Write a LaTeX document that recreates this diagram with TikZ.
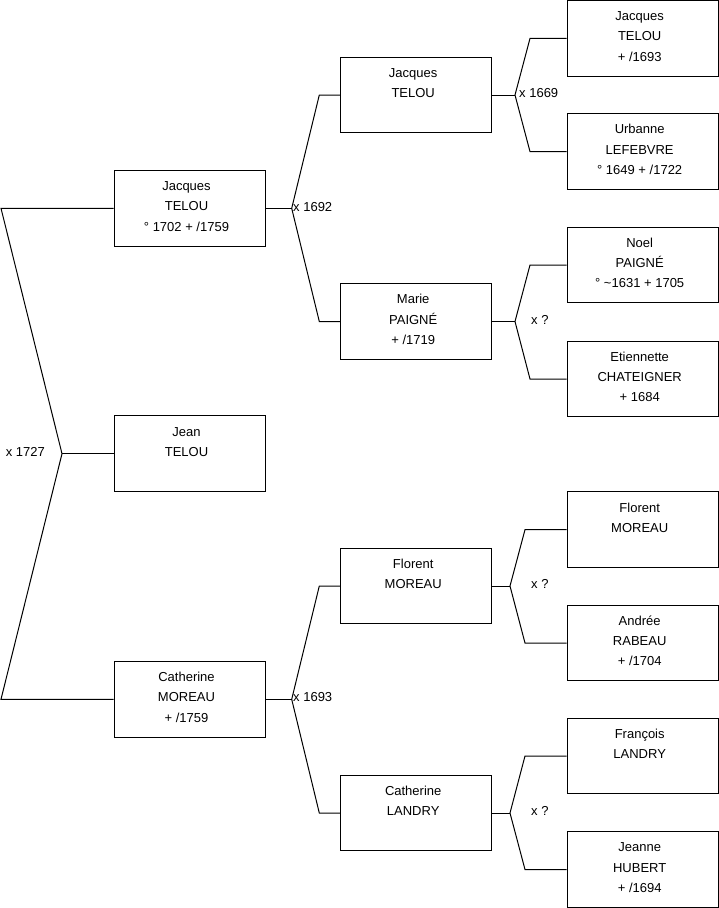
\documentclass[tikz,border=0pt]{standalone}
\usepackage{fontspec}
\setmainfont{Liberation Sans}
\newcommand\pnode[4]{%
  \node[person] (#1) at (#2,#3) {};
  \node[ptext] (#1-t) at ([xshift=-3pt,yshift=-6.3pt]#1.north) {\strut #4};}
\begin{document}
\begin{tikzpicture}[x=1pt,y=-1pt,
  person/.style={draw=black, line width=1pt, minimum width=151pt, minimum height=75.5pt, inner sep=0pt, fill=white},
  ptext/.style={anchor=north, align=center, inner sep=0pt, font=\fontsize{13}{20.2}\selectfont},
  link/.style={draw=black, line width=1pt, line join=miter},
  mlabel/.style={font=\fontsize{13}{15}\selectfont, inner sep=0pt}]
\useasboundingbox (0,0) rectangle (719,908);
% column 1
\pnode{a1}{189.5}{208.3}{Jacques\\TELOU\\° 1702 + /1759}
\pnode{b1}{189.5}{453.7}{Jean\\TELOU}
\pnode{c1}{189.5}{699.3}{Catherine\\MOREAU\\+ /1759}
% column 2
\pnode{a2}{416.2}{95}{Jacques\\TELOU}
\pnode{m2}{416.2}{321.5}{Marie\\PAIGNÉ\\+ /1719}
\pnode{f2}{416.2}{586}{Florent\\MOREAU}
\pnode{l2}{416.2}{813}{Catherine\\LANDRY}
% column 3
\pnode{a3}{642.7}{38.4}{Jacques\\TELOU\\+ /1693}
\pnode{u3}{642.7}{151.6}{Urbanne\\LEFEBVRE\\° 1649 + /1722}
\pnode{n3}{642.7}{265}{Noel\\PAIGNÉ\\° \textasciitilde 1631 + 1705}
\pnode{e3}{642.7}{379}{Etiennette\\CHATEIGNER\\+ 1684}
\pnode{f3}{642.7}{529.7}{Florent\\MOREAU}
\pnode{r3}{642.7}{643}{Andrée\\RABEAU\\+ /1704}
\pnode{l3}{642.7}{756}{François\\LANDRY}
\pnode{h3}{642.7}{869.5}{Jeanne\\HUBERT\\+ /1694}
% junction coordinates
\coordinate (t0) at (1,208.3);
\coordinate (j0) at (62,453.7);
\coordinate (b0) at (1,699.3);
\coordinate (k1) at (291.7,208.3);
\coordinate (k1u) at (319.3,95);
\coordinate (k1d) at (319.3,321.5);
\coordinate (k2) at (291.7,699.3);
\coordinate (k2u) at (319.3,586);
\coordinate (k2d) at (319.3,813);
\coordinate (k3) at (515,95);
\coordinate (k3u) at (530,38.4);
\coordinate (k3d) at (530,151.6);
\coordinate (k4) at (515,321.5);
\coordinate (k4u) at (530,265);
\coordinate (k4d) at (530,379);
\coordinate (k5) at (510,586);
\coordinate (k5u) at (525,529.7);
\coordinate (k5d) at (525,643);
\coordinate (k6) at (510,813);
\coordinate (k6u) at (525,756);
\coordinate (k6d) at (525,869.5);
% connectors
\draw[link] (a1.west) -- (t0) -- (j0) -- (b0) -- (c1.west);
\draw[link] (j0) -- (b1.west);
\draw[link] (a1.east) -- (k1);
\draw[link] (a2.west) -- (k1u) -- (k1) -- (k1d) -- (m2.west);
\draw[link] (c1.east) -- (k2);
\draw[link] (f2.west) -- (k2u) -- (k2) -- (k2d) -- (l2.west);
\draw[link] (a2.east) -- (k3);
\draw[link] (a3.west) -- (k3u) -- (k3) -- (k3d) -- (u3.west);
\draw[link] (m2.east) -- (k4);
\draw[link] (n3.west) -- (k4u) -- (k4) -- (k4d) -- (e3.west);
\draw[link] (f2.east) -- (k5);
\draw[link] (f3.west) -- (k5u) -- (k5) -- (k5d) -- (r3.west);
\draw[link] (l2.east) -- (k6);
\draw[link] (l3.west) -- (k6u) -- (k6) -- (k6d) -- (h3.west);
% marriage labels
\node[mlabel, anchor=east] (x1727) at (45,452) {x 1727};
\node[mlabel, anchor=west] (x1692) at (293,207) {x 1692};
\node[mlabel, anchor=west] (x1693) at (293,697.5) {x 1693};
\node[mlabel, anchor=west] (x1669) at (519,93) {x 1669};
\node[mlabel, anchor=west] (xq1) at (531,320) {x ?};
\node[mlabel, anchor=west] (xq2) at (531,583.5) {x ?};
\node[mlabel, anchor=west] (xq3) at (531,810.7) {x ?};
\end{tikzpicture}
\end{document}
